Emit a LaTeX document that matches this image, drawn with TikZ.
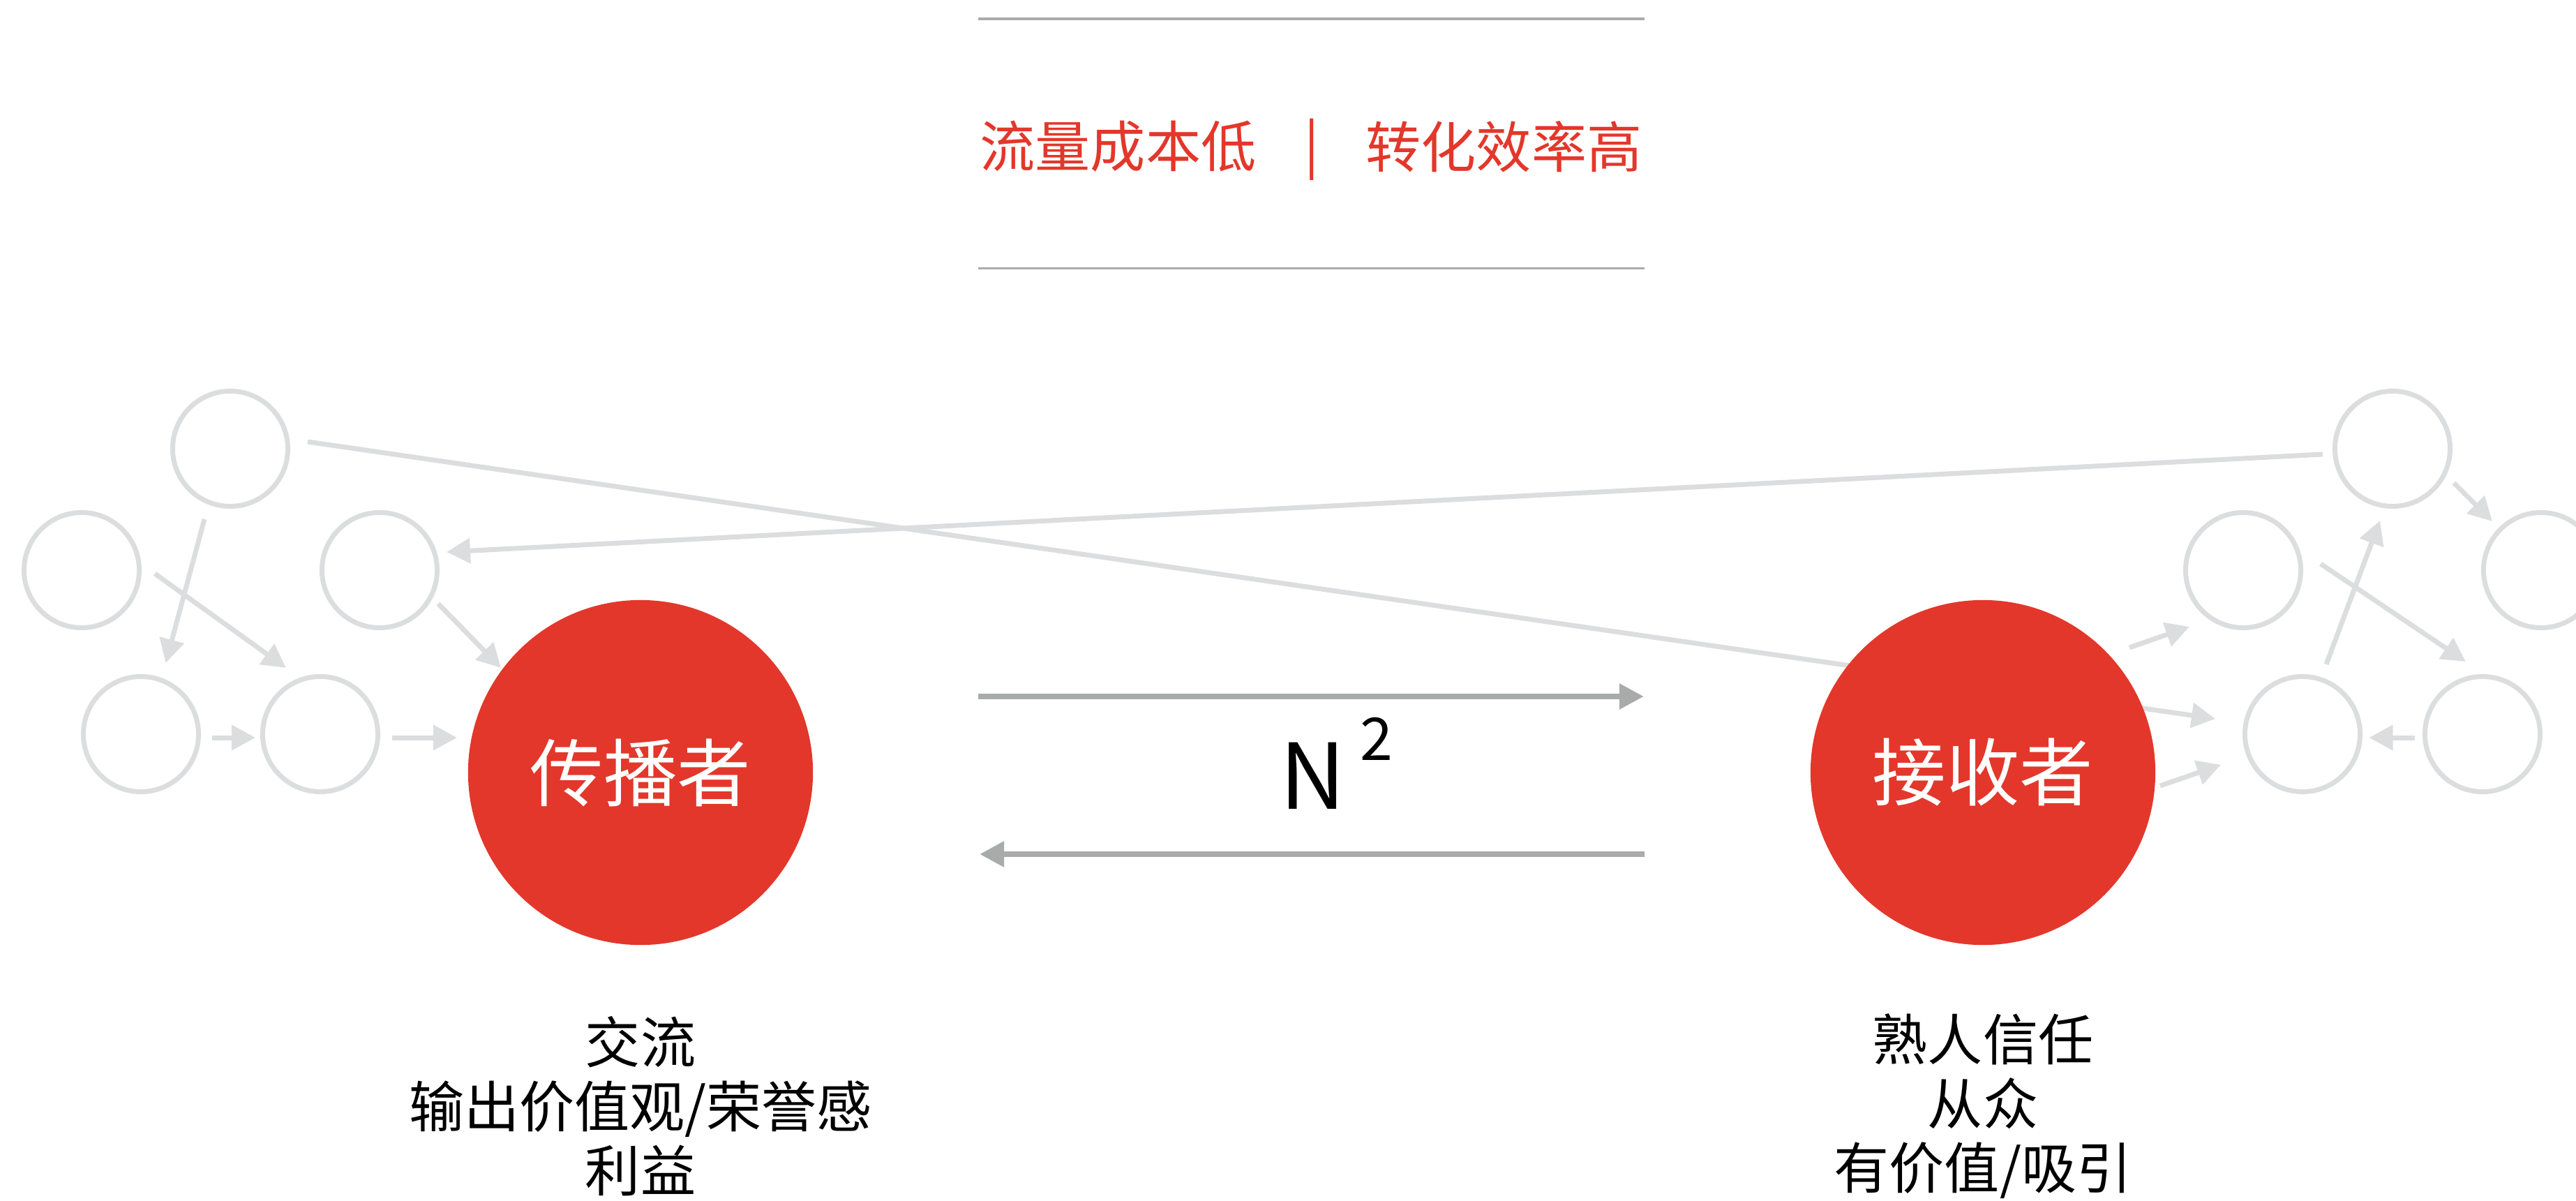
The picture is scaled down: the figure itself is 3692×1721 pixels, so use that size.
\documentclass[tikz,border=0pt]{standalone}
\usepackage{fontspec}
\setmainfont{Noto Sans CJK SC}
\usetikzlibrary{arrows.meta,calc}
\definecolor{netgray}{HTML}{DCDDDE}
\definecolor{arrgray}{HTML}{A9ABAA}
\definecolor{rulegray}{HTML}{ABABAB}
\definecolor{hubred}{HTML}{E3372B}
\begin{document}
\begin{tikzpicture}[x=0.01cm,y=-0.01cm,
  peer/.style={circle,draw=netgray,line width=0.07cm,minimum size=1.65cm,inner sep=0pt},
  hub/.style={circle,fill=hubred,minimum size=4.94cm,inner sep=0pt,text=white,font=\fontsize{30}{36}\selectfont},
  net/.style={draw=netgray,line width=0.07cm,-{Triangle[length=0.34cm,width=0.35cm]}},
  flow/.style={draw=arrgray,line width=0.083cm,-{Triangle[length=0.35cm,width=0.35cm]}},
  rulestyle/.style={draw=rulegray,line width=0.03cm},
  note/.style={align=center,font=\fontsize{22.5}{26.2}\selectfont,inner sep=0pt},
  slogan/.style={text=hubred,font=\fontsize{22.5}{27}\selectfont,inner sep=0pt}
]
\useasboundingbox (0,0) rectangle (3692,1721);
\clip (0,0) rectangle (3692,1721);

% top rules and slogan
\coordinate (r1a) at (1402,27);
\coordinate (r1b) at (2357,27);
\coordinate (r2a) at (1402,384);
\coordinate (r2b) at (2357,384);
\draw[rulestyle] (r1a) -- (r1b);
\draw[rulestyle] (r2a) -- (r2b);
\node[slogan,anchor=east] (s1) at (1801,210) {流量成本低};
\node[slogan] (bar) at (1880,214) {|};
\node[slogan,anchor=west] (s2) at (1957,210) {转化效率高};

% left network
\node[peer] (A) at (330,643) {};
\node[peer] (B) at (117,817) {};
\node[peer] (C) at (544,817) {};
\node[peer] (D) at (202,1052) {};
\node[peer] (E) at (459,1052) {};
% right network
\node[peer] (F) at (3429,643) {};
\node[peer] (G) at (3642,817) {};
\node[peer] (H) at (3215,817) {};
\node[peer] (I) at (3300,1052) {};
\node[peer] (J) at (3558,1052) {};

% long cross lines
\draw[net] ($(A.center)+(111,-10)$) -- ($(I.center)+(-125,-22)$);
\draw[net] ($(F.center)+(-100,8)$) -- ($(C.center)+(96,-26)$);

% hubs
\node[hub] (LS) at (918,1107) {传播者};
\node[hub] (RS) at (2842,1107) {接收者};

% left arrows
\draw[net] ($(A.center)+(-37,101)$) -- ($(D.center)+(35.5,-102)$);
\draw[net] ($(B.center)+(105,5)$) -- ($(E.center)+(-49,-95)$);
\draw[net] ($(C.center)+(84,48)$) -- ($(LS.center)+(-200,-150)$);
\draw[net] ($(D.center)+(102,5)$) -- ($(E.center)+(-93,5)$);
\draw[net] ($(E.center)+(103,5)$) -- ($(LS.center)+(-263,-50)$);

% right arrows
\draw[net] ($(F.center)+(88,49)$) -- ($(G.center)+(-70,-70)$);
\draw[net] ($(I.center)+(34,-100)$) -- ($(F.center)+(-18,103)$);
\draw[net] ($(H.center)+(111,-9)$) -- ($(J.center)+(-24,-104)$);
\draw[net] ($(J.center)+(-97,5)$) -- ($(I.center)+(95.5,5)$);
\draw[net] ($(RS.center)+(210,-179)$) -- ($(H.center)+(-77,81)$);
\draw[net] ($(RS.center)+(254,19)$) -- ($(I.center)+(-117,44)$);

% central flow
\draw[flow] ($(LS.center)+(484,-109)$) -- ($(RS.center)+(-486,-109)$);
\draw[flow] ($(RS.center)+(-485,117)$) -- ($(LS.center)+(486,117)$);
\node[font=\fontsize{37}{40}\selectfont,inner sep=0pt] (N) at (1882,1112) {N};
\node[font=\fontsize{24}{28}\selectfont,inner sep=0pt] (sq) at (1973,1059) {2};

% notes
\node[note] (lnote) at (918,1585) {交流\\输出价值观/荣誉感\\利益};
\node[note] (rnote) at (2842,1585) {熟人信任\\从众\\有价值/吸引};
\end{tikzpicture}
\end{document}
